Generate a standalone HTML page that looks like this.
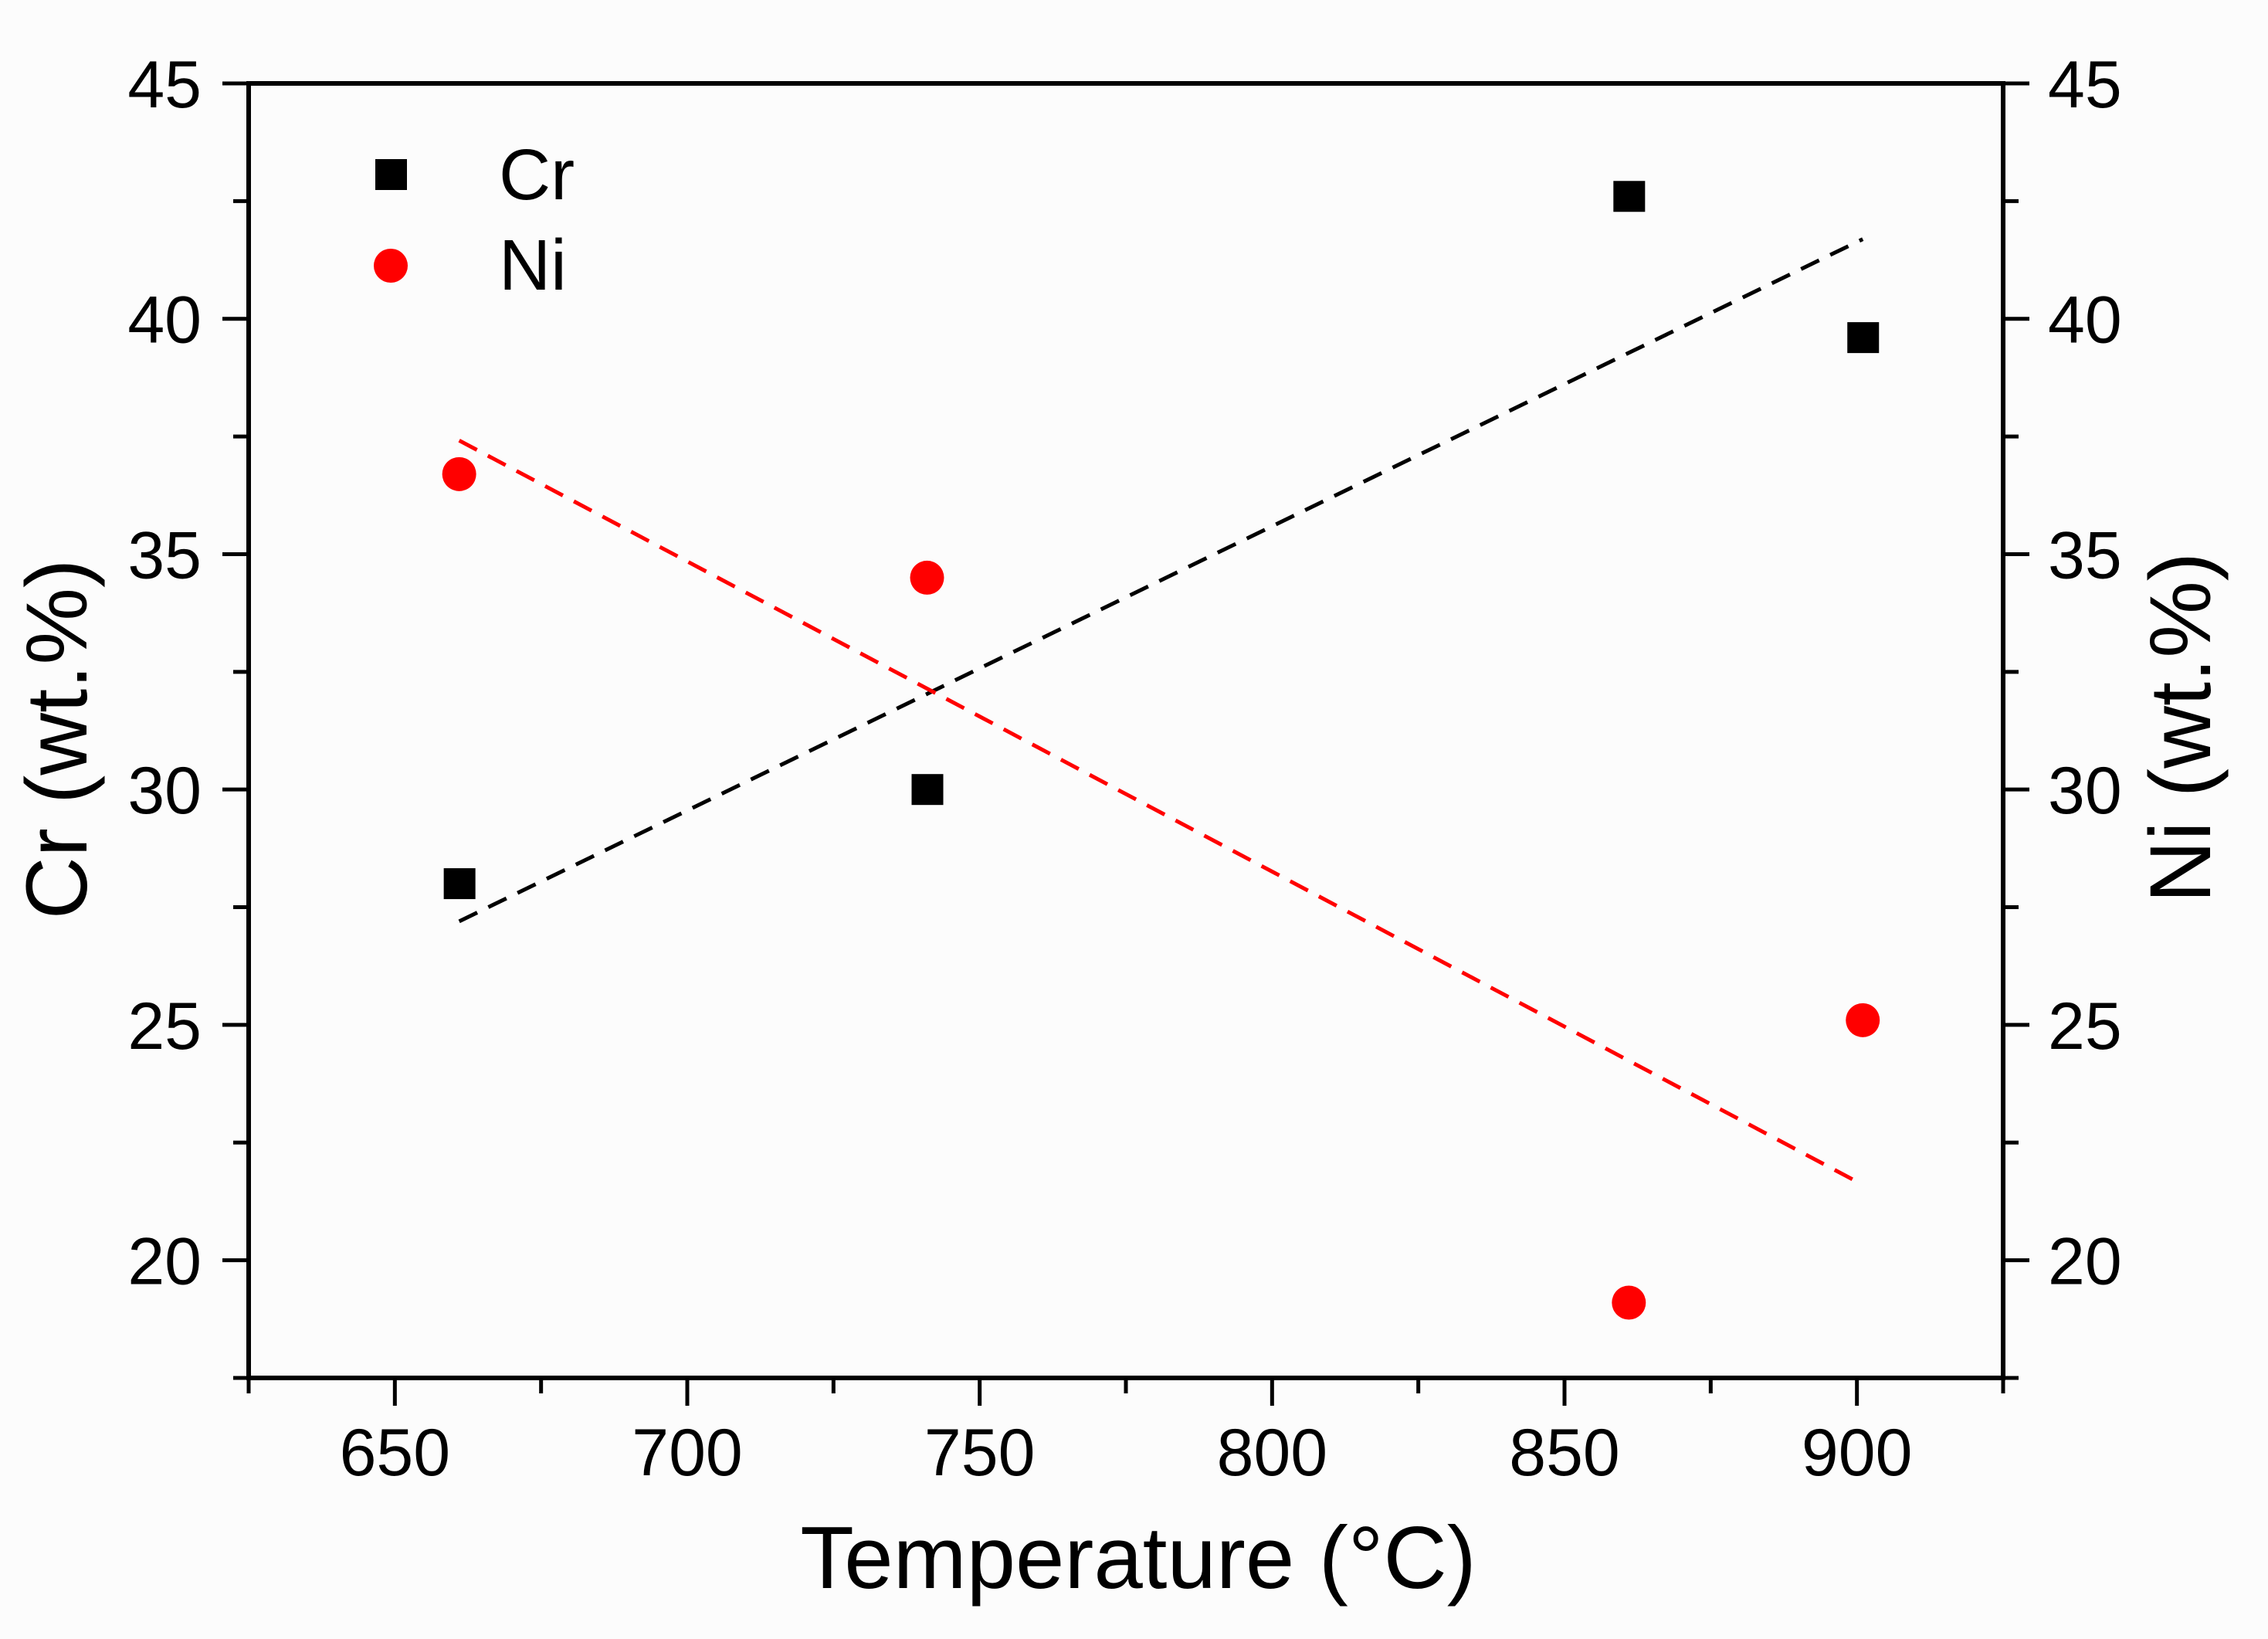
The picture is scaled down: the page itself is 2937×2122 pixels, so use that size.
<!DOCTYPE html>
<html><head><meta charset="utf-8"><style>
html,body{margin:0;padding:0;background:#fcfcfc;}
svg{display:block;font-family:"Liberation Sans",Arial,sans-serif;}
</style></head><body>
<svg id="chart" width="2937" height="2122" viewBox="0 0 2937 2122">
<rect x="0" y="0" width="2937" height="2122" fill="#fcfcfc"/>
<g id="axes"></g>
<g id="fits"></g>
<g id="marks"></g>
<g>
  <rect x="486" y="206" width="41" height="40" fill="#000"/>
  <text x="646" y="258" font-size="93">Cr</text>
  <circle cx="506" cy="344" r="22" fill="#f00"/>
  <text x="646" y="375" font-size="93">Ni</text>
</g>
<text x="1474" y="2056" font-size="114" text-anchor="middle">Temperature (°C)</text>
<text transform="translate(112,957) rotate(-90)" font-size="112" text-anchor="middle">Cr (wt.%)</text>
<text transform="translate(2862,942) rotate(-90)" font-size="112" text-anchor="middle">Ni (wt.%)</text>
</svg>
<script>
const temps = [661, 741, 861, 901];
const crValues = [28.0, 30.0, 42.6, 39.6];
const niValues = [36.7, 34.5, 19.1, 25.1];
const xTicks = [650, 700, 750, 800, 850, 900];
const yTicks = [20, 25, 30, 35, 40, 45];

const NS = "http://www.w3.org/2000/svg";
const L = 322, R = 2594, T = 108, B = 1784;
const xMin = 625, xMax = 925, yMin = 17.5, yMax = 45;
function xs(v){ return L + (v - xMin) / (xMax - xMin) * (R - L); }
function ys(v){ return B - (v - yMin) / (yMax - yMin) * (B - T); }
function mk(tag, attrs, parent){
  const e = document.createElementNS(NS, tag);
  for (const k in attrs) e.setAttribute(k, attrs[k]);
  parent.appendChild(e);
  return e;
}
const axes = document.getElementById('axes');
const fits = document.getElementById('fits');
const marks = document.getElementById('marks');

let fr = mk('rect', {x:L, y:T, width:R-L, height:B-T, fill:'none', stroke:'#000', 'stroke-width':6}, axes);



for (let v = 625; v <= 925; v += 25) {
  const major = xTicks.includes(v);
  const t = mk('line', {x1:xs(v), x2:xs(v), y1:B, y2:B + (major ? 36 : 20), stroke:'#000', 'stroke-width':5}, axes);
  
  
}
xTicks.forEach(v => {
  const t = mk('text', {x:xs(v), y:1910, 'font-size':86, 'text-anchor':'middle'}, axes);
  t.textContent = v;
  
  
});
for (let v = 17.5; v <= 45; v += 2.5) {
  const major = yTicks.includes(v);
  const len = major ? 34 : 20;
  const a = mk('line', {x1:L - len, x2:L, y1:ys(v), y2:ys(v), stroke:'#000', 'stroke-width':5}, axes);
  
  
  const b = mk('line', {x1:R, x2:R + len, y1:ys(v), y2:ys(v), stroke:'#000', 'stroke-width':5}, axes);
  
  
}
yTicks.forEach(v => {
  const a = mk('text', {x:261, y:ys(v) + 31, 'font-size':86, 'text-anchor':'end'}, axes);
  a.textContent = v;
  
  
  const b = mk('text', {x:2652, y:ys(v) + 31, 'font-size':86, 'text-anchor':'start'}, axes);
  b.textContent = v;
  
  
});

function fit(xsArr, ysArr){
  const n = xsArr.length;
  const mx = xsArr.reduce((a,b)=>a+b,0)/n, my = ysArr.reduce((a,b)=>a+b,0)/n;
  let sxy = 0, sxx = 0;
  for (let i=0;i<n;i++){ sxy += (xsArr[i]-mx)*(ysArr[i]-my); sxx += (xsArr[i]-mx)**2; }
  const m = sxy/sxx; return v => my + m*(v-mx);
}
const x0 = Math.min(...temps), x1 = Math.max(...temps);
const fc = fit(temps, crValues), fn = fit(temps, niValues);
const l1 = mk('line', {x1:xs(x0), y1:ys(fc(x0)), x2:xs(x1), y2:ys(fc(x1)), stroke:'#000', 'stroke-width':5, 'stroke-dasharray':'26 16'}, fits);


const l2 = mk('line', {x1:xs(x0), y1:ys(fn(x0)), x2:xs(x1), y2:ys(fn(x1)), stroke:'#f00', 'stroke-width':5, 'stroke-dasharray':'26 16'}, fits);



temps.forEach((t, i) => {
  const s = mk('rect', {x:xs(t)-20, y:ys(crValues[i])-20, width:41, height:40, fill:'#000'}, marks);
  
  
  const c = mk('circle', {cx:xs(t), cy:ys(niValues[i]), r:22, fill:'#f00'}, marks);
  
  
});
</script>
</body></html>
